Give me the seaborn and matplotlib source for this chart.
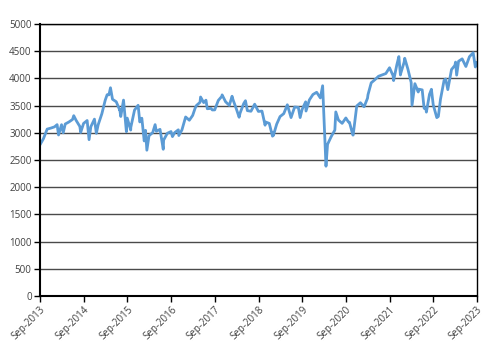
import numpy as np
import pandas as pd
import matplotlib
matplotlib.use("Agg")
import matplotlib.pyplot as plt
import matplotlib.dates as mdates
import seaborn as sns

sns.set_style("white")
plt.rcParams["font.family"] = ["Open Sans", "DejaVu Sans"]

# month-end closes, Sep-2013 .. Aug-2023
month_end = [
    2893, 3068, 3086, 3109,
    3013, 3149, 3162, 3198, 3245, 3228, 3116, 3172, 3226, 3113, 3251, 3146,
    3351, 3599, 3697, 3616, 3571, 3424, 3601, 3270, 3101, 3418, 3506, 3268,
    3045, 2946, 3005, 3028, 3063, 2865, 2991, 3023, 3002, 3055, 3052, 3291,
    3231, 3320, 3501, 3560, 3555, 3442, 3449, 3421, 3595, 3674, 3570, 3504,
    3609, 3439, 3362, 3536, 3407, 3396, 3526, 3393, 3399, 3198, 3173, 3001,
    3159, 3298, 3352, 3515, 3280, 3474, 3467, 3427, 3569, 3604, 3704, 3745,
    3641, 3329, 2787, 2928, 3050, 3234, 3174, 3273, 3194, 2958, 3493, 3553,
    3481, 3636, 3919, 3975, 4039, 4064, 4089, 4196, 4048, 4250, 4063, 4298,
    4175, 3924, 3903, 3803, 3789, 3455, 3708, 3517, 3279, 3618, 3965, 3794,
    4163, 4238, 4315, 4359, 4218, 4399, 4471, 4297,
]
month_end_dates = pd.date_range("2013-09-30", periods=len(month_end), freq="ME")

# intra-month highs / lows
extra_dates = pd.to_datetime([
    "2013-09-01", "2014-01-22", "2014-02-03", "2014-03-14", "2014-06-10",
    "2014-08-07", "2014-10-16", "2014-12-16", "2015-03-16", "2015-04-13",
    "2015-06-29", "2015-07-08", "2015-08-24", "2015-09-29", "2015-12-14",
    "2016-01-20", "2016-02-11", "2016-04-20", "2016-06-27", "2016-09-12",
    "2016-11-04", "2017-03-20", "2017-05-05", "2017-06-19", "2017-08-11",
    "2017-11-01", "2018-01-23", "2018-03-23", "2018-05-15", "2018-10-26",
    "2018-12-27", "2019-01-03", "2019-08-15", "2019-10-03", "2020-01-31",
    "2020-02-19", "2020-03-18", "2020-06-08", "2020-09-21", "2020-10-29",
    "2021-01-29", "2021-03-04", "2021-10-04", "2021-11-17", "2021-12-01",
    "2022-01-05", "2022-03-07", "2022-04-28", "2022-06-16", "2022-07-05",
    "2022-08-16", "2022-09-29", "2022-10-13", "2022-12-13", "2023-03-06",
    "2023-03-15", "2023-05-31", "2023-07-31", "2023-08-18", "2023-09-01",
])
extra_values = [
    2780, 3150, 2960, 3000, 3315,
    3006, 2874, 2990, 3700, 3828,
    3420, 3300, 3020, 3050, 3200,
    2850, 2680, 3150, 2697, 2930,
    2950, 3450, 3658, 3600, 3420,
    3697, 3672, 3286, 3590, 3140,
    2938, 2950, 3280, 3400, 3640,
    3865, 2386, 3384, 3200, 2958,
    3480, 3700, 3960, 4401, 4080,
    4370, 3505, 3750, 3450, 3380,
    3800, 3280, 3300, 3990, 4300,
    4060, 4220, 4471, 4210, 4240,
]

df = pd.DataFrame({
    "date": list(month_end_dates) + list(extra_dates),
    "value": month_end + extra_values,
}).sort_values("date")

fig = plt.figure(figsize=(4.94, 3.54), dpi=100)
ax = fig.add_axes([40 / 494, 1 - 296 / 354, 437 / 494, 272 / 354])

ax.set_axisbelow(True)
ax.grid(axis="y", color="#4a4a4a", linewidth=1.0)
sns.lineplot(data=df, x="date", y="value", ax=ax, color="#5B9BD5", linewidth=2.0)

ax.set_ylim(0, 5000)
ax.set_yticks(np.arange(0, 5001, 500))
ax.set_xlim(pd.Timestamp("2013-09-01"), pd.Timestamp("2023-09-01"))
ax.set_xticks(pd.date_range("2013-09-01", "2023-09-01", freq="12MS"))
ax.xaxis.set_major_formatter(mdates.DateFormatter("%b-%Y"))
ax.set_xlabel("")
ax.set_ylabel("")

for side in ["left", "right", "top", "bottom"]:
    ax.spines[side].set_visible(True)
    ax.spines[side].set_color("black")
    ax.spines[side].set_linewidth(1.0)
ax.spines["left"].set_linewidth(1.5)
ax.spines["bottom"].set_linewidth(1.5)

ax.tick_params(axis="both", which="major", direction="out", length=4, width=1,
               color="black", labelsize=7, labelcolor="#404040", pad=2,
               bottom=True, left=True)
plt.setp(ax.get_xticklabels(), rotation=45, ha="right", rotation_mode="anchor")

fig.savefig("out.png", dpi=100)
